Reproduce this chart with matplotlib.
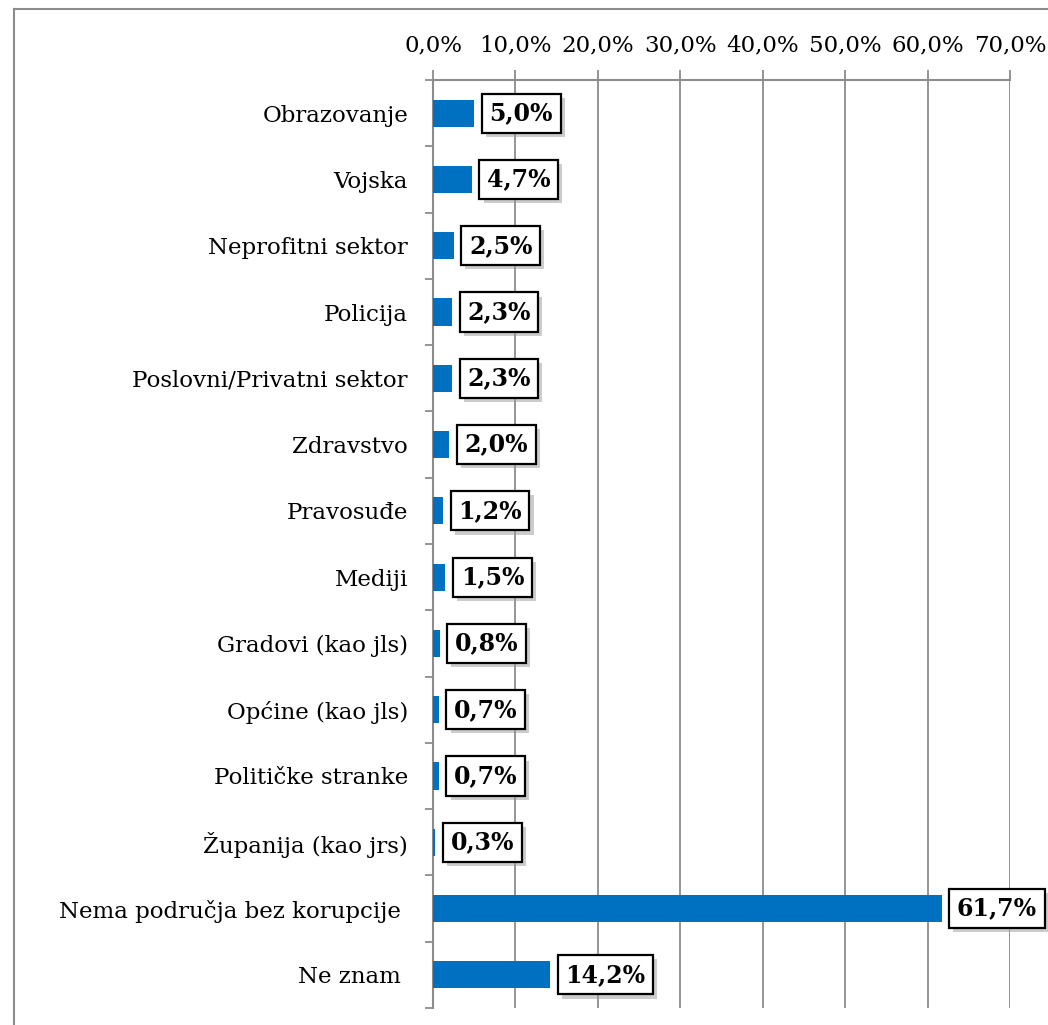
import numpy as np
import matplotlib.pyplot as plt
from matplotlib.lines import Line2D
from matplotlib.ticker import FuncFormatter, MultipleLocator, FixedLocator
import matplotlib.patheffects as pe

categories = ['Obrazovanje', 'Vojska', 'Neprofitni sektor', 'Policija',
              'Poslovni/Privatni sektor', 'Zdravstvo', 'Pravosuđe', 'Mediji',
              'Gradovi (kao jls)', 'Općine (kao jls)', 'Političke stranke',
              'Županija (kao jrs)', 'Nema područja bez korupcije ', 'Ne znam ']
values = [5.0, 4.7, 2.5, 2.3, 2.3, 2.0, 1.2, 1.5, 0.8, 0.7, 0.7, 0.3, 61.7, 14.2]

plt.rcParams['font.family'] = ['DejaVu Serif']

fig = plt.figure(figsize=(10.48, 10.25), dpi=100)
ax = fig.add_axes([433 / 1048, 1 - 1008 / 1025, (1010 - 433) / 1048, (1008 - 80) / 1025])

grey = '#8c8c8c'
y = np.arange(len(categories))
ax.barh(y, values, height=0.41, color='#0070C0', zorder=3)

# value labels in boxes with shadow
for yi, v in zip(y, values):
    t = ax.annotate(f"{v:.1f}%".replace('.', ','), (v, yi), xytext=(11, 0),
                    textcoords='offset points', ha='left', va='center',
                    fontsize=17, fontweight='bold', zorder=5,
                    bbox=dict(boxstyle='square,pad=0.32', fc='white', ec='black', lw=1.6),
                    annotation_clip=False)
    t.get_bbox_patch().set_path_effects([
        pe.SimplePatchShadow(offset=(3, -3), shadow_rgbFace='#9a9a9a', alpha=0.5),
        pe.Normal()])

ax.set_xlim(0, 70)
ax.set_ylim(len(categories) - 0.5, -0.5)

ax.xaxis.tick_top()
ax.xaxis.set_major_locator(MultipleLocator(10))
ax.xaxis.set_major_formatter(FuncFormatter(lambda v, p: f"{v:.1f}%".replace('.', ',')))
ax.tick_params(axis='x', length=7, color=grey, width=1.3, pad=10, labelsize=16.5)
ax.grid(axis='x', color=grey, linewidth=1.3, zorder=0)

ax.set_yticks(y)
ax.set_yticklabels(categories)
ax.yaxis.set_minor_locator(FixedLocator(np.arange(-0.5, len(categories), 1)))
ax.tick_params(axis='y', which='major', length=0, pad=18, labelsize=16.5)
ax.tick_params(axis='y', which='minor', length=6, color=grey, width=1.3)

for s in ['bottom', 'right']:
    ax.spines[s].set_visible(False)
for s in ['top', 'left']:
    ax.spines[s].set_color(grey)
    ax.spines[s].set_linewidth(1.5)

# outer chart frame (only top and left edges visible)
fx, fy = 14 / 1048, 1 - 9 / 1025
fig.add_artist(Line2D([fx, 1.0], [fy, fy], color=grey, lw=1.5, transform=fig.transFigure))
fig.add_artist(Line2D([fx, fx], [fy, 0.0], color=grey, lw=1.5, transform=fig.transFigure))

fig.savefig('out.png', dpi=100)
